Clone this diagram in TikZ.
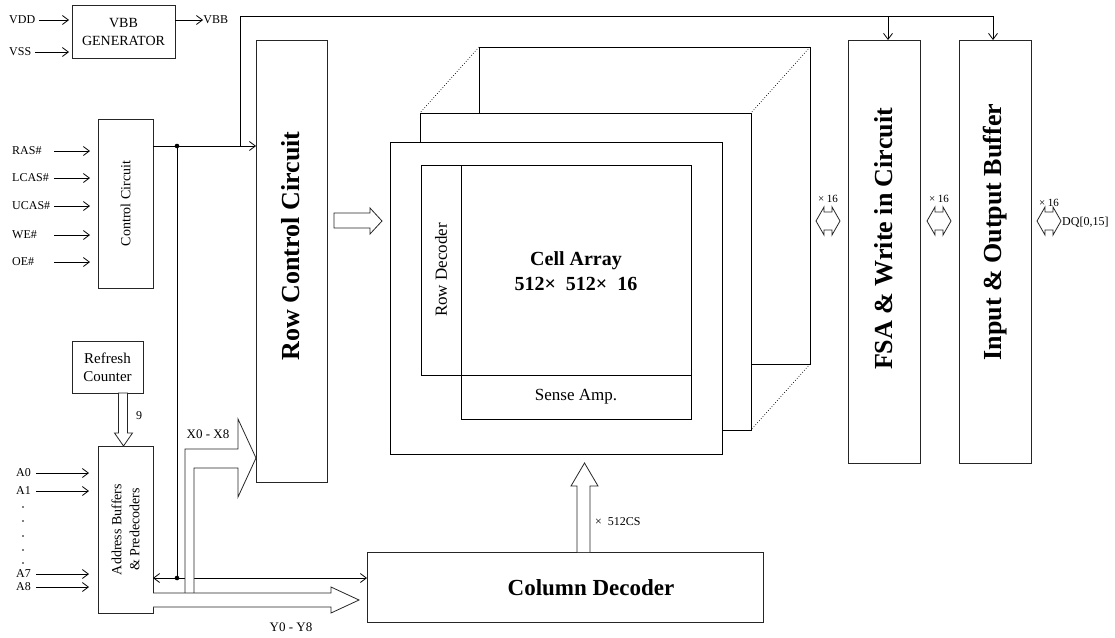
\documentclass[tikz,border=0pt]{standalone}
\usepackage{fontspec}
\setmainfont{Liberation Serif}
\usetikzlibrary{arrows.meta}

\tikzset{
  blk/.style={draw=black!85, line width=0.9pt, fill=white, inner sep=0pt, outer sep=0pt, anchor=north west},
  sig/.style={line width=0.8pt, -{Straight Barb[length=6pt,width=9pt]}},
  sigboth/.style={line width=0.8pt, {Straight Barb[length=6pt,width=9pt]}-{Straight Barb[length=6pt,width=9pt]}},
  bus/.style={draw=black!85, line width=0.8pt, fill=white, line join=miter},
  small/.style={font=\fontsize{12}{14}\selectfont, inner sep=0pt},
  tiny/.style={font=\fontsize{11}{13}\selectfont, inner sep=0pt},
  mid/.style={font=\fontsize{14}{18}\selectfont, align=center, inner sep=0pt},
  inner/.style={font=\fontsize{17}{20}\selectfont, inner sep=0pt},
  big/.style={font=\fontsize{26}{30}\selectfont\bfseries, inner sep=0pt},
}

\begin{document}
\begin{tikzpicture}[x=1pt, y=-1pt]
\useasboundingbox (0,0) rectangle (1115,637);

% boxes
\node[blk, minimum width=103, minimum height=53] (vbb) at (72,5) {};
\node[blk, minimum width=55, minimum height=169] (ctl) at (98,119) {};
\node[blk, minimum width=71, minimum height=52] (rfc) at (72,341) {};
\node[blk, minimum width=55, minimum height=167] (adr) at (98,446) {};
\node[blk, minimum width=71, minimum height=442] (rcc) at (256,40) {};
\node[blk, minimum width=72, minimum height=423] (fsa) at (848,40) {};
\node[blk, minimum width=72, minimum height=423] (io) at (959,40) {};
\node[blk, minimum width=396, minimum height=70] (col) at (367,552) {};

% cell array planes
\node[blk, draw=black, minimum width=331, minimum height=317] (pl3) at (479,47) {};
\draw[dotted, line width=0.7pt] (pl3.north west) -- ++(-59,66);
\draw[dotted, line width=0.7pt] (pl3.north east) -- ++(-59,66);
\draw[dotted, line width=0.7pt] (pl3.south east) -- ++(-59,66);
\node[blk, draw=black, minimum width=331, minimum height=317] (pl2) at (420,113) {};
\node[blk, draw=black, minimum width=332, minimum height=312] (pl1) at (390,142) {};
\node[blk, draw=black, minimum width=40, minimum height=210] (rdec) at (421,165) {};
\node[blk, draw=black, minimum width=230, minimum height=210] (cell) at (461,165) {};
\node[blk, draw=black, minimum width=230, minimum height=44] (samp) at (461,375) {};

% texts
\node[mid] (vbb-t) at (vbb.center) {VBB\\GENERATOR};
\node[mid, rotate=90] (ctl-t) at (ctl.center) {Control Circuit};
\node[mid, font=\fontsize{15}{18}\selectfont] (rfc-t) at (rfc.center) {Refresh\\Counter};
\node[mid, rotate=90] (adr-t) at (adr.center) {Address Buffers\\\& Predecoders};
\node[big, rotate=90] (rcc-t) at (291,246) {Row Control Circuit};
\node[big, rotate=90] (fsa-t) at (884,239) {FSA \& Write in Circuit};
\node[big, rotate=90] (io-t) at (995,232) {Input \& Output Buffer};
\node[font=\fontsize{23}{26}\selectfont\bfseries, inner sep=0pt] (col-t) at (591,588) {Column Decoder};
\node[inner, rotate=90] (rdec-t) at (rdec.center) {Row Decoder};
\node[inner] (samp-t) at (samp.center) {Sense Amp.};
\node[font=\fontsize{20}{25}\selectfont\bfseries, align=center, inner sep=0pt] (cell-t) at (576,271) {Cell Array\\512× \ 512× \ 16};

% power
\node[small, anchor=west] (vdd) at (9,20) {VDD};
\node[small, anchor=west] (vss) at (9,52) {VSS};
\draw[sig, shorten >=3pt] ([xshift=4]vdd.east) -- (vbb.west |- vdd.east);
\draw[sig, shorten >=3pt] ([xshift=4]vss.east) -- (vbb.west |- vss.east);
\coordinate (vbbo) at (vbb.east |- vdd.east);
\draw[sig] (vbbo) -- ++(28,0) node[small, anchor=west] (vbb-o) {VBB};

% control inputs
\foreach \n/\y/\t in {ras/151/RAS\#, lcas/178/LCAS\#, ucas/206/UCAS\#, we/235/WE\#, oe/262/OE\#} {
  \node[small, anchor=west] (\n) at (12,\y) {\t};
  \draw[sig, shorten >=8pt] (54,\y) -- (ctl.west |- \n.west);
}

% address inputs
\foreach \n/\y/\t in {a0/473/A0, a1/491/A1, a7/574/A7, a8/587/A8} {
  \node[small, anchor=west] (\n) at (16,\y) {\t};
  \draw[sig, shorten >=9pt] (36,\y) -- (adr.west |- \n.west);
}
\foreach \y in {507,521,536,550,563}
  \fill (23,\y) circle (0.8);

% control distribution
\coordinate (j1) at (177,146);
\coordinate (j2) at (177,578);
\coordinate (tap) at (240,146);
\coordinate (rail) at (0,16);
\coordinate (fsain) at ([xshift=4]fsa.north);
\coordinate (ioin) at ([xshift=-2]io.north);
\draw[sig] (ctl.east |- j1) -- (rcc.west |- j1);
\draw[line width=0.8pt] (j1) -- (j2);
\draw[sigboth] (adr.east |- j2) -- (col.west |- j2);
\fill (j1) circle (2.3);
\fill (j2) circle (2.3);
\draw[sig] (tap) |- (ioin |- rail) -- (ioin);
\draw[sig] (fsain |- rail) -- (fsain);

% buses
\draw[bus] ([xshift=-2]adr.north) -- ++(9,-13) -- ++(-5,0) -- ++(0,-40) -- ++(-9,0) -- ++(0,40) -- ++(-4,0) -- cycle;
\node[small, anchor=west] (n9) at (136,416) {9};

\draw[bus] (185,593) -- (185,449) -- (238,449) -- (238,419) -- (rcc.west |- 0,458)
  -- (238,497) -- (238,468) -- (194,468) -- (194,593);
\node[font=\fontsize{13}{15}\selectfont, inner sep=0pt] (xlbl) at (208,434) {X0 - X8};

\draw[bus] (adr.east |- 0,593) -- (331,593) -- (331,587) -- (359,600) -- (331,613) -- (331,607) -- (adr.east |- 0,607);
\node[font=\fontsize{13}{15}\selectfont, inner sep=0pt] (ylbl) at (291,627) {Y0 - Y8};

\draw[bus] (334,213) -- (370,213) -- (370,208) -- (382,221) -- (370,234) -- (370,228) -- (334,228) -- cycle;

\draw[bus] ([xshift=12]col.north) -- ++(0,-66) -- ++(-6,0) -- ++(13.5,-23) -- ++(13.5,23) -- ++(-8,0) -- ++(0,66);
\node[small, anchor=west] (cs) at (595,522) {× \ 512CS};

% x16 data paths
\foreach \n/\xa/\ly in {d1/816/199, d2/927/199, d3/1037/203} {
  \draw[bus] (\xa,221) -- ++(8,-14) -- ++(0,5) -- ++(8,0) -- ++(0,-5) -- ++(8,14)
    -- ++(-8,14) -- ++(0,-5) -- ++(-8,0) -- ++(0,5) -- cycle;
  \node[tiny] (\n) at (\xa+12,\ly) {× 16};
}
\node[small, anchor=west] (dq) at (1062,222) {DQ[0,15]};

\end{tikzpicture}
\end{document}
